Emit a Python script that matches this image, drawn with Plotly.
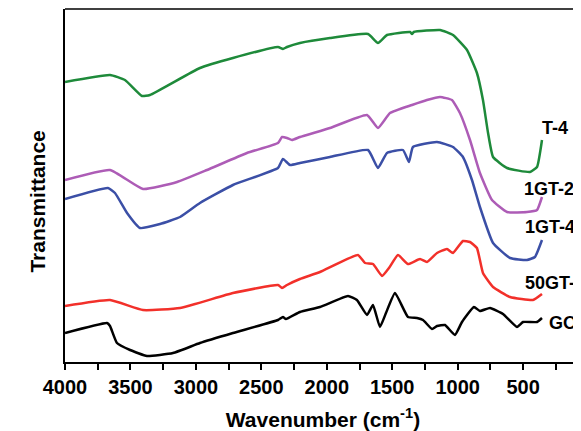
import plotly.graph_objects as go

# Wavenumber (cm^-1) and transmittance (arbitrary, offset) for each spectrum
t4_wn = [4000, 3656, 3542, 3412, 3351, 2969, 2717, 2373, 2335, 2304, 2205, 1976, 1685, 1609, 1540,
         1364, 1349, 1335, 1135, 1036, 929, 853, 807, 768, 730, 623, 448, 394, 356]
t4_y = [280, 287, 282, 266, 267, 294, 304, 315, 313, 315, 319, 324, 328, 319, 327,
        330, 328, 330, 332, 327, 312, 289, 262, 229, 205, 194, 190, 195, 222]

gt24_wn = [4000, 3656, 3404, 3144, 2915, 2610, 2373, 2342, 2304, 2266, 2205, 1976, 1693, 1609, 1517,
           1349, 1235, 1135, 1044, 983, 906, 830, 738, 623, 471, 394, 356]
gt24_y = [182, 192, 173, 180, 192, 209, 219, 225, 224, 222, 225, 234, 247, 234, 249,
          257, 262, 265, 262, 249, 222, 189, 162, 150, 150, 152, 165]

gt4_wn = [4000, 3672, 3618, 3526, 3427, 3274, 3121, 2969, 2717, 2373, 2335, 2281, 2205, 1976, 1685,
          1609, 1540, 1418, 1372, 1342, 1158, 1036, 960, 891, 830, 730, 600, 471, 410, 356]
gt4_y = [163, 174, 169, 149, 134, 138, 145, 159, 177, 194, 203, 197, 199, 205, 212,
         194, 209, 212, 200, 215, 220, 215, 205, 182, 155, 119, 104, 102, 105, 122]

gt50_wn = [4000, 3656, 3404, 3121, 2717, 2373, 2342, 2304, 2205, 2052, 1762, 1708, 1647, 1578, 1525,
           1456, 1380, 1288, 1235, 1158, 1082, 1036, 960, 906, 853, 807, 730, 600, 425, 356]
gt50_y = [56, 62, 52, 54, 69, 77, 74, 77, 83, 90, 107, 99, 98, 86, 94,
          107, 98, 103, 100, 109, 113, 109, 121, 120, 114, 89, 75, 65, 62, 68]

go_wn = [4000, 3679, 3656, 3603, 3503, 3374, 3175, 2969, 2717, 2373, 2335, 2312, 2205, 2052, 1838,
         1770, 1693, 1647, 1594, 1548, 1479, 1380, 1311, 1265, 1196, 1158, 1097, 1021, 967,
         876, 830, 753, 654, 547, 501, 394, 356]
go_y = [29, 39, 36, 19, 12, 6, 9, 19, 29, 42, 45, 43, 50, 55, 66,
        62, 47, 57, 35, 49, 69, 45, 44, 42, 33, 36, 37, 27, 40,
        55, 51, 54, 48, 35, 40, 40, 44]

series = [
    ("T-4", t4_wn, t4_y, "#1e8a3a", 375, 234),
    ("1GT-24", gt24_wn, gt24_y, "#ad5cb6", 510, 173),
    ("1GT-4", gt4_wn, gt4_y, "#3b4fa6", 500, 135),
    ("50GT-4", gt50_wn, gt50_y, "#f2302a", 500, 79),
    ("GO", go_wn, go_y, "#000000", 318, 39),
]

fig = go.Figure()
for name, wn, y, col, lx, ly in series:
    fig.add_trace(go.Scatter(x=wn, y=y, mode="lines", name=name,
                             line=dict(color=col, width=2.5, shape="spline", smoothing=0.4)))
    fig.add_annotation(x=lx, y=ly, text=name, showarrow=False, xanchor="left", yanchor="middle",
                       font=dict(family="Liberation Sans", size=18, color="black", weight="bold"))

fig.add_annotation(x=-0.08, y=0.455, xref="paper", yref="paper", text="Transmittance",
                   textangle=-90, showarrow=False,
                   font=dict(family="Liberation Sans", size=21, color="black", weight="bold"))

fig.add_shape(type="line", xref="paper", yref="paper", x0=0, x1=1, y0=1, y1=1,
              line=dict(color="black", width=1.5))

fig.update_layout(
    width=573, height=423,
    margin=dict(l=57, r=0, t=1, b=69),
    plot_bgcolor="white", paper_bgcolor="white",
    showlegend=False,
    xaxis=dict(range=[4000, 58], tickvals=[4000, 3500, 3000, 2500, 2000, 1500, 1000, 500],
               ticks="outside", ticklen=6, tickwidth=1.5, tickcolor="black",
               showline=True, linecolor="black", linewidth=1.5, showgrid=False, zeroline=False,
               minor=dict(tickvals=[3750, 3250, 2750, 2250, 1750, 1250, 750, 250], ticks="outside",
                          ticklen=6, tickwidth=1.5, tickcolor="black"),
               tickfont=dict(family="Liberation Sans", size=20, color="black", weight="bold"),
               title=dict(text="Wavenumber (cm<sup>-1</sup>)", standoff=18,
                          font=dict(family="Liberation Sans", size=21, color="black", weight="bold"))),
    yaxis=dict(range=[0, 353], showticklabels=False, ticks="", showgrid=False, zeroline=False,
               showline=True, linecolor="black", linewidth=1.5),
)

fig.write_html("out.html")
